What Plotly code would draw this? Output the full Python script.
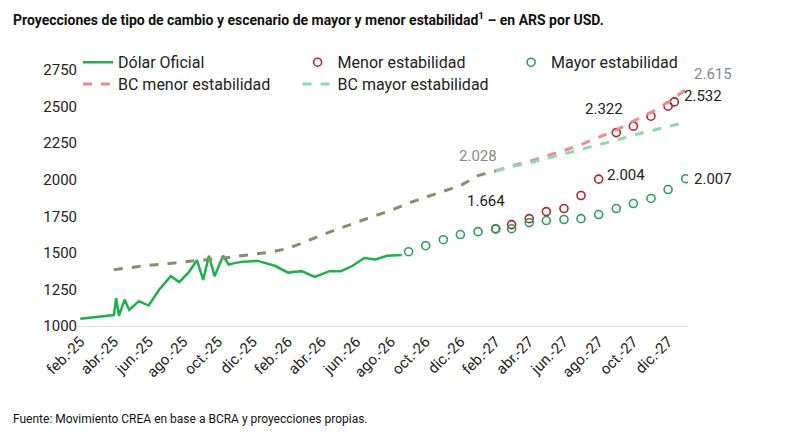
import pandas as pd
import plotly.graph_objects as go

# Dólar oficial (approx. every ~2 weeks)
oficial_x = ["2025-02-01", "2025-04-01", "2025-04-05", "2025-04-10", "2025-04-20", "2025-04-28",
             "2025-05-15", "2025-06-01", "2025-06-20", "2025-07-10", "2025-07-25", "2025-08-10",
             "2025-08-25", "2025-09-05", "2025-09-15", "2025-09-25", "2025-10-10", "2025-10-20",
             "2025-10-30", "2025-11-15", "2025-12-10", "2026-01-10", "2026-02-01", "2026-02-25",
             "2026-03-20", "2026-04-15", "2026-05-05", "2026-05-25", "2026-06-15", "2026-07-05",
             "2026-07-25", "2026-08-20"]
oficial_y = [1050, 1075, 1190, 1070, 1180, 1110, 1170, 1140, 1250, 1340, 1300, 1365, 1450,
             1315, 1480, 1340, 1480, 1420, 1430, 1440, 1445, 1410, 1365, 1375, 1335, 1375,
             1375, 1410, 1465, 1455, 1480, 1485]

mayor_x = pd.date_range("2026-09-01", "2028-01-01", freq="MS")
mayor_y = [1508, 1549, 1590, 1625, 1645, 1664, 1665, 1707, 1721, 1728, 1734, 1762, 1803,
           1837, 1872, 1933, 2007]

menor_x = list(pd.date_range("2027-02-01", "2027-12-01", freq="MS")) + [pd.Timestamp("2027-12-12")]
menor_y = [1664, 1693, 1734, 1782, 1803, 1892, 2004, 2322, 2366, 2434, 2503, 2532]

bc_base_x = pd.date_range("2025-04-01", "2027-02-01", freq="MS")
bc_base_y = [1385, 1400, 1415, 1425, 1440, 1450, 1460, 1475, 1490, 1505, 1530, 1575, 1620,
             1665, 1710, 1750, 1790, 1840, 1880, 1920, 1960, 2028, 2060]

bc_x = pd.date_range("2027-02-01", "2028-01-01", freq="MS")
bc_menor_y = [2060, 2095, 2125, 2160, 2200, 2240, 2290, 2340, 2400, 2460, 2530, 2615]
bc_mayor_y = [2060, 2090, 2115, 2145, 2175, 2205, 2240, 2270, 2305, 2335, 2365, 2393]

tick_dates = pd.date_range("2025-02-01", "2027-12-01", freq="2MS")
mes = {1: "ene", 2: "feb", 3: "mar", 4: "abr", 5: "may", 6: "jun", 7: "jul", 8: "ago",
       9: "sep", 10: "oct", 11: "nov", 12: "dic"}
tick_text = [f"{mes[d.month]}.-{d.year % 100}" for d in tick_dates]

GREEN = "#1eb04b"
RED = "#b8232b"
GREEN_C = "#2a9e5c"
FONT = "Roboto"

fig = go.Figure()
fig.add_trace(go.Scatter(x=oficial_x, y=oficial_y, name="Dólar Oficial", mode="lines",
                         legend="legend", line=dict(color=GREEN, width=2.5)))
fig.add_trace(go.Scatter(x=menor_x, y=menor_y, name="Menor estabilidad", mode="markers",
                         legend="legend3",
                         marker=dict(symbol="circle-open", color=RED, size=8, line=dict(width=1.6))))
fig.add_trace(go.Scatter(x=mayor_x, y=mayor_y, name="Mayor estabilidad", mode="markers",
                         legend="legend4",
                         marker=dict(symbol="circle-open", color=GREEN_C, size=8, line=dict(width=1.6))))
fig.add_trace(go.Scatter(x=bc_x, y=bc_menor_y, name="BC menor estabilidad", mode="lines",
                         legend="legend2", line=dict(color="#f08a8a", width=3, dash="dash")))
fig.add_trace(go.Scatter(x=bc_x, y=bc_mayor_y, name="BC mayor estabilidad", mode="lines",
                         legend="legend5", line=dict(color="#8fd8b0", width=3, dash="dash")))
fig.add_trace(go.Scatter(x=bc_base_x, y=bc_base_y, showlegend=False, mode="lines",
                         line=dict(color="#8c8c6c", width=3, dash="dash")))

# value labels
def label(x, y, text, color="#222", xs=0, ys=0, xa="center"):
    fig.add_annotation(x=x, y=y, text=text, showarrow=False, xshift=xs, yshift=ys, xanchor=xa,
                       font=dict(family=FONT, size=15, color=color))

label("2027-01-01", 2028, "2.028", "#888", ys=20)
label("2028-01-01", 2615, "2.615", "#888", xs=6, ys=16, xa="left")
label("2027-02-01", 1664, "1.664", ys=28, xs=-10)
label("2027-08-01", 2004, "2.004", xs=6, ys=4, xa="left")
label("2027-09-01", 2322, "2.322", xs=-12, ys=24)
label("2027-12-12", 2532, "2.532", xs=8, ys=6, xa="left")
label("2028-01-01", 2007, "2.007", xs=6, xa="left")

fig.add_annotation(xref="paper", yref="paper", x=-0.11, y=1.2, xanchor="left", yanchor="middle",
                   text="<b>Proyecciones de tipo de cambio y escenario de mayor y menor estabilidad<sup>1</sup> – en ARS por USD.</b>",
                   showarrow=False, font=dict(family=FONT, size=14, color="#111"))
fig.add_annotation(xref="paper", yref="paper", x=-0.11, y=-0.4, xanchor="left",
                   text="Fuente: Movimiento CREA en base a BCRA y proyecciones propias.",
                   showarrow=False, font=dict(family=FONT, size=12, color="#111"))

leg = dict(orientation="h", xanchor="left", yanchor="middle", bgcolor="rgba(0,0,0,0)",
           font=dict(size=16))
fig.update_layout(
    width=792, height=440,
    margin=dict(l=70, r=112, t=62, b=122),
    plot_bgcolor="white", paper_bgcolor="white",
    font=dict(family=FONT, size=15, color="#222"),
    showlegend=True,
    legend=dict(leg, x=0.0, y=1.03),
    legend3=dict(leg, x=0.36, y=1.03),
    legend4=dict(leg, x=0.71, y=1.03),
    legend2=dict(leg, x=0.0, y=0.945),
    legend5=dict(leg, x=0.36, y=0.945),
    xaxis=dict(range=["2025-01-28", "2028-01-05"], tickvals=tick_dates, ticktext=tick_text,
               tickangle=-45, showgrid=False, showline=True, linecolor="#ddd",
               tickfont=dict(size=15)),
    yaxis=dict(range=[1000, 2750], tickvals=[1000, 1250, 1500, 1750, 2000, 2250, 2500, 2750],
               showgrid=False, zeroline=False, tickfont=dict(size=15)),
)

fig.write_html("out.html")
